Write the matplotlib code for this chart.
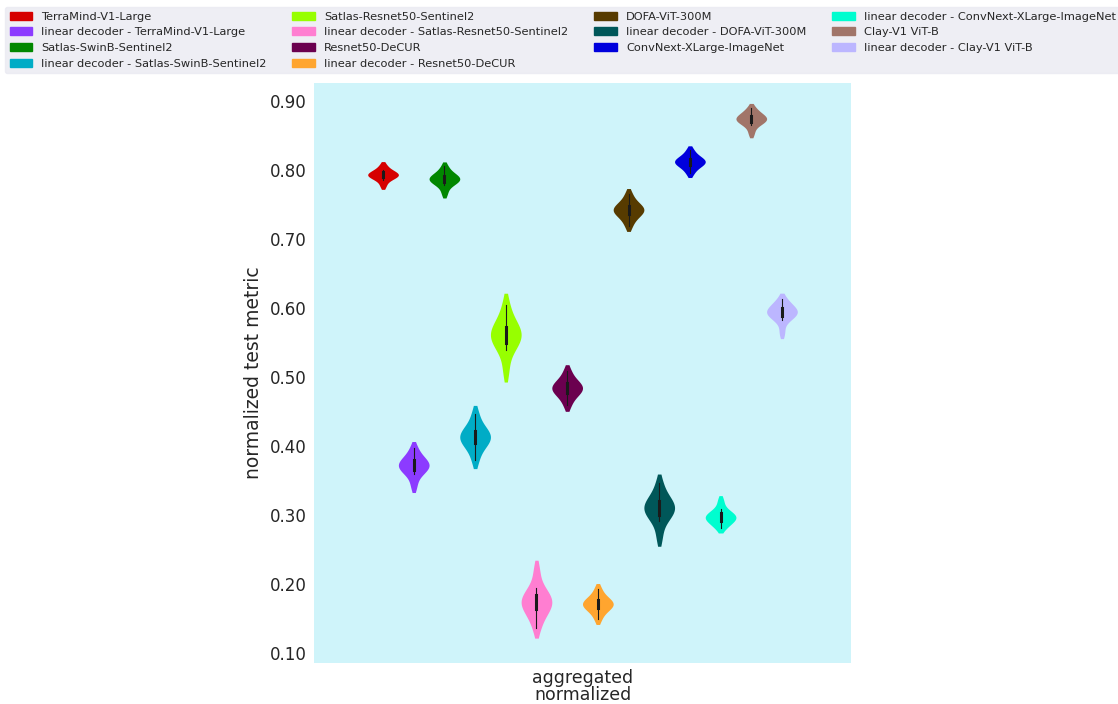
import matplotlib
matplotlib.use("Agg")
import matplotlib.pyplot as plt
from matplotlib.patches import Patch
import numpy as np
import pandas as pd
import seaborn as sns

# model names in hue order (legend is column-major)
models = [
    "TerraMind-V1-Large", "linear decoder - TerraMind-V1-Large",
    "Satlas-SwinB-Sentinel2", "linear decoder - Satlas-SwinB-Sentinel2",
    "Satlas-Resnet50-Sentinel2", "linear decoder - Satlas-Resnet50-Sentinel2",
    "Resnet50-DeCUR", "linear decoder - Resnet50-DeCUR",
    "DOFA-ViT-300M", "linear decoder - DOFA-ViT-300M",
    "ConvNext-XLarge-ImageNet", "linear decoder - ConvNext-XLarge-ImageNet",
    "Clay-V1 ViT-B", "linear decoder - Clay-V1 ViT-B",
]
colors = [
    "#d60000", "#8c3bff", "#018700", "#00acc6", "#97ff00", "#ff7ed1", "#6b004f",
    "#ffa52f", "#573b00", "#005759", "#0000dd", "#00fdcf", "#a17569", "#bcb6ff",
]

# normalized scores per model (values estimated from the violins)
terramind = [0.777, 0.786, 0.789, 0.791, 0.792, 0.794, 0.795, 0.797, 0.800, 0.807]
lin_terramind = [0.342, 0.359, 0.364, 0.368, 0.371, 0.373, 0.376, 0.380, 0.385, 0.397]
swinb = [0.766, 0.778, 0.782, 0.784, 0.786, 0.788, 0.790, 0.792, 0.796, 0.805]
lin_swinb = [0.379, 0.396, 0.403, 0.408, 0.411, 0.415, 0.418, 0.423, 0.430, 0.447]
resnet50 = [0.509, 0.539, 0.548, 0.554, 0.559, 0.563, 0.568, 0.574, 0.583, 0.605]
lin_resnet50 = [0.136, 0.154, 0.162, 0.168, 0.172, 0.176, 0.180, 0.186, 0.194, 0.220]
decur = [0.459, 0.471, 0.476, 0.480, 0.483, 0.485, 0.488, 0.492, 0.497, 0.509]
lin_decur = [0.149, 0.160, 0.164, 0.168, 0.170, 0.172, 0.174, 0.178, 0.182, 0.193]
dofa = [0.719, 0.730, 0.735, 0.739, 0.741, 0.743, 0.746, 0.749, 0.754, 0.765]
lin_dofa = [0.268, 0.292, 0.299, 0.305, 0.308, 0.312, 0.316, 0.321, 0.328, 0.346]
convnext = [0.795, 0.803, 0.807, 0.809, 0.811, 0.813, 0.815, 0.817, 0.821, 0.829]
lin_convnext = [0.281, 0.287, 0.291, 0.294, 0.296, 0.298, 0.300, 0.303, 0.308, 0.321]
clay = [0.853, 0.865, 0.869, 0.871, 0.873, 0.875, 0.877, 0.879, 0.883, 0.890]
lin_clay = [0.564, 0.583, 0.587, 0.591, 0.593, 0.595, 0.597, 0.601, 0.605, 0.613]

scores = [terramind, lin_terramind, swinb, lin_swinb, resnet50, lin_resnet50,
          decur, lin_decur, dofa, lin_dofa, convnext, lin_convnext, clay, lin_clay]

yticks = [0.10, 0.20, 0.30, 0.40, 0.50, 0.60, 0.70, 0.80, 0.90]
category = "aggregated\nnormalized"

rows = []
for name, vals in zip(models, scores):
    for v in vals:
        rows.append({"dataset": category, "model": name, "score": v})
df = pd.DataFrame(rows)

plt.rcParams["font.family"] = "DejaVu Sans"
text_col = "#262626"

fig = plt.figure(figsize=(11.18, 7.04), dpi=100)
ax = fig.add_axes([314 / 1118, 1 - 663 / 704, 537 / 1118, 580 / 704])
ax.set_facecolor("#cff4fa")

sns.violinplot(
    data=df, x="dataset", y="score", hue="model", hue_order=models,
    palette=colors, saturation=1, density_norm="width", inner="box",
    cut=1, linewidth=0, linecolor="#1a1a1a",
    inner_kws=dict(box_width=2.2, whis_width=0.8, marker=""),
    legend=False, ax=ax,
)

ax.set_xlim(-0.5, 0.5)
ax.set_ylim(0.0855, 0.926)
ax.set_yticks(yticks)
ax.set_yticklabels([f"{t:.2f}" for t in yticks])
ax.tick_params(axis="y", length=0, pad=5, labelsize=12, labelcolor=text_col)
ax.tick_params(axis="x", length=0, pad=4, labelsize=12.5, labelcolor=text_col)
for t in ax.get_xticklabels():
    t.set_linespacing(0.95)
ax.set_xlabel("")
ax.set_ylabel("normalized test metric", fontsize=13.5, color=text_col, labelpad=5)
for s in ax.spines.values():
    s.set_visible(False)

handles = [Patch(facecolor=c, edgecolor=c) for c in colors]
leg = fig.legend(
    handles, models, loc="upper left", bbox_to_anchor=(5 / 1118, 1 - 7 / 704),
    ncol=4, fontsize=8.2, frameon=True, fancybox=True, handlelength=2.0,
    columnspacing=2.25, borderaxespad=0,
)
leg.get_frame().set_facecolor("#eaeaf2")
leg.get_frame().set_edgecolor("#eaeaf2")
for t in leg.get_texts():
    t.set_color(text_col)

fig.savefig("out.png", dpi=100)
